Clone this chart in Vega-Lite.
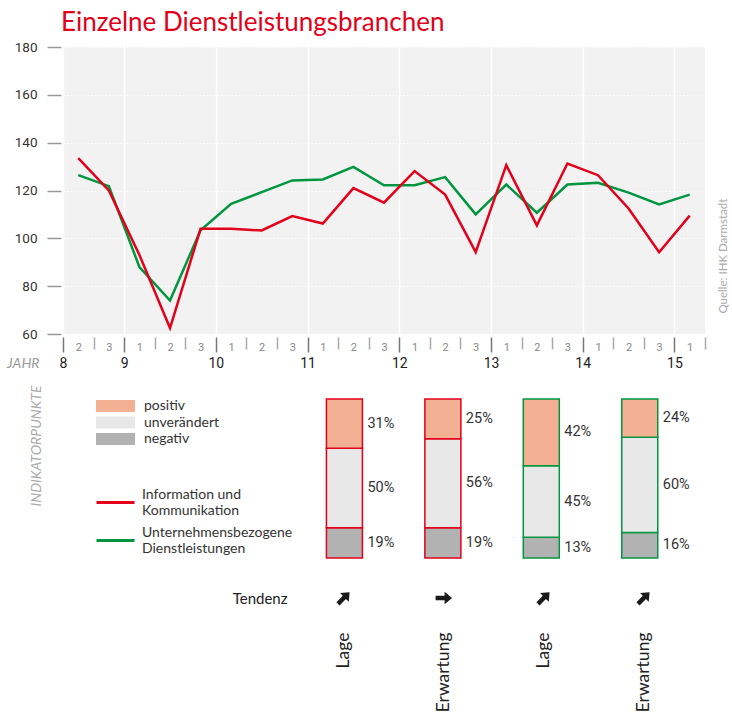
{
  "$schema": "https://vega.github.io/schema/vega-lite/v6.json",
  "padding": {"left": 6, "top": 10, "right": 0, "bottom": 0},
  "background": "white",
  "config": {
    "view": {"stroke": null},
    "font": "Lato",
    "axis": {"labelFont": "Roboto"}
  },
  "datasets": {
    "verlauf": [
      {"i": 0, "jahr": 2008, "periode": 2, "ik": 133.5, "ud": 126.4},
      {"i": 1, "jahr": 2008, "periode": 3, "ik": 120, "ud": 121.8},
      {"i": 2, "jahr": 2009, "periode": 1, "ik": 93, "ud": 88},
      {"i": 3, "jahr": 2009, "periode": 2, "ik": 62.5, "ud": 74},
      {"i": 4, "jahr": 2009, "periode": 3, "ik": 104, "ud": 103.4},
      {"i": 5, "jahr": 2010, "periode": 1, "ik": 104, "ud": 114.4},
      {"i": 6, "jahr": 2010, "periode": 2, "ik": 103.3, "ud": 119.3},
      {"i": 7, "jahr": 2010, "periode": 3, "ik": 109.3, "ud": 124.2},
      {"i": 8, "jahr": 2011, "periode": 1, "ik": 106.2, "ud": 124.6},
      {"i": 9, "jahr": 2011, "periode": 2, "ik": 121, "ud": 129.9},
      {"i": 10, "jahr": 2011, "periode": 3, "ik": 114.9, "ud": 122.2},
      {"i": 11, "jahr": 2012, "periode": 1, "ik": 128.1, "ud": 122.2},
      {"i": 12, "jahr": 2012, "periode": 2, "ik": 118.3, "ud": 125.6},
      {"i": 13, "jahr": 2012, "periode": 3, "ik": 94.2, "ud": 110},
      {"i": 14, "jahr": 2013, "periode": 1, "ik": 130.6, "ud": 122.5},
      {"i": 15, "jahr": 2013, "periode": 2, "ik": 105.4, "ud": 110.7},
      {"i": 16, "jahr": 2013, "periode": 3, "ik": 131.3, "ud": 122.5},
      {"i": 17, "jahr": 2014, "periode": 1, "ik": 126.4, "ud": 123.2},
      {"i": 18, "jahr": 2014, "periode": 2, "ik": 112.5, "ud": 119.1},
      {"i": 19, "jahr": 2014, "periode": 3, "ik": 94.2, "ud": 114.2},
      {"i": 20, "jahr": 2015, "periode": 1, "ik": 109.5, "ud": 118.3}
    ],
    "anteile": [
      {"spalte": 1, "branche": "Information und Kommunikation", "art": "Lage", "kategorie": "negativ", "rang": 1, "anteil": 0.19},
      {"spalte": 1, "branche": "Information und Kommunikation", "art": "Lage", "kategorie": "unverändert", "rang": 2, "anteil": 0.50},
      {"spalte": 1, "branche": "Information und Kommunikation", "art": "Lage", "kategorie": "positiv", "rang": 3, "anteil": 0.31},
      {"spalte": 2, "branche": "Information und Kommunikation", "art": "Erwartung", "kategorie": "negativ", "rang": 1, "anteil": 0.19},
      {"spalte": 2, "branche": "Information und Kommunikation", "art": "Erwartung", "kategorie": "unverändert", "rang": 2, "anteil": 0.56},
      {"spalte": 2, "branche": "Information und Kommunikation", "art": "Erwartung", "kategorie": "positiv", "rang": 3, "anteil": 0.25},
      {"spalte": 3, "branche": "Unternehmensbezogene Dienstleistungen", "art": "Lage", "kategorie": "negativ", "rang": 1, "anteil": 0.13},
      {"spalte": 3, "branche": "Unternehmensbezogene Dienstleistungen", "art": "Lage", "kategorie": "unverändert", "rang": 2, "anteil": 0.45},
      {"spalte": 3, "branche": "Unternehmensbezogene Dienstleistungen", "art": "Lage", "kategorie": "positiv", "rang": 3, "anteil": 0.42},
      {"spalte": 4, "branche": "Unternehmensbezogene Dienstleistungen", "art": "Erwartung", "kategorie": "negativ", "rang": 1, "anteil": 0.16},
      {"spalte": 4, "branche": "Unternehmensbezogene Dienstleistungen", "art": "Erwartung", "kategorie": "unverändert", "rang": 2, "anteil": 0.60},
      {"spalte": 4, "branche": "Unternehmensbezogene Dienstleistungen", "art": "Erwartung", "kategorie": "positiv", "rang": 3, "anteil": 0.24}
    ],
    "tendenz": [
      {"spalte": 1, "art": "Lage", "zeile": "Tendenz", "tendenz": "steigend"},
      {"spalte": 2, "art": "Erwartung", "zeile": "Tendenz", "tendenz": "gleichbleibend"},
      {"spalte": 3, "art": "Lage", "zeile": "Tendenz", "tendenz": "steigend"},
      {"spalte": 4, "art": "Erwartung", "zeile": "Tendenz", "tendenz": "steigend"}
    ]
  },
  "spacing": 30,
  "bounds": "flush",
  "resolve": {"scale": {"x": "independent", "y": "independent"}},
  "vconcat": [
    {
      "width": 642,
      "height": 287,
      "title": {"text": "Einzelne Dienstleistungsbranchen", "anchor": "start", "frame": "group", "color": "#e2001a", "fontSize": 26, "fontWeight": "normal", "font": "Lato", "offset": 4, "dx": -2},
      "view": {"fill": "#f2f2f2", "stroke": null},
      "data": {"name": "verlauf"},
      "resolve": {"axis": {"x": "independent", "y": "independent"}},
      "layer": [
        {
          "mark": {"type": "line", "color": "#009640", "strokeWidth": 2.5},
          "encoding": {
            "x": {"field": "i", "type": "quantitative",
              "scale": {"domain": [-0.5, 20.5], "nice": false, "zero": false},
              "axis": {
                "orient": "bottom",
                "values": [-0.5, 0.5, 1.5, 2.5, 3.5, 4.5, 5.5, 6.5, 7.5, 8.5, 9.5, 10.5, 11.5, 12.5, 13.5, 14.5, 15.5, 16.5, 17.5, 18.5, 19.5, 20.5],
                "offset": 3,
                "domain": false,
                "ticks": true,
                "tickColor": {"condition": {"test": "datum.value == -0.5 || (datum.value - 1.5) % 3 == 0", "value": "#777"}, "value": "#aaa"},
                "tickSize": {"condition": {"test": "datum.value == -0.5 || (datum.value - 1.5) % 3 == 0", "value": 15}, "value": 12},
                "tickWidth": 1.5,
                "labelExpr": "datum.value == -0.5 ? '8' : ((datum.value - 1.5) % 3 == 0 ? '' + (9 + (datum.value - 1.5) / 3) : '')",
                "labelFontSize": 14,
                "labelColor": "#222",
                "labelPadding": 4,
                "labelFlush": false,
                "labelOverlap": false,
                "grid": true,
                "gridColor": "#ffffff",
                "gridWidth": 1.5,
                "gridOpacity": {"condition": {"test": "datum.value == -0.5 || (datum.value - 1.5) % 3 == 0", "value": 1}, "value": 0},
                "title": "JAHR",
                "titleFont": "Lato",
                "titleFontStyle": "italic",
                "titleFontWeight": "normal",
                "titleFontSize": 14,
                "titleColor": "#999",
                "titleAlign": "right",
                "titleBaseline": "middle",
                "titleX": -24,
                "titleY": 26
              }
            },
            "y": {"field": "ud", "type": "quantitative",
              "scale": {"domain": [60, 180], "nice": false, "zero": false},
              "axis": {
                "orient": "left",
                "values": [60, 80, 100, 120, 140, 160, 180],
                "domain": false,
                "offset": 2,
                "tickColor": "#999",
                "tickSize": 14,
                "tickWidth": 1.5,
                "labelFontSize": 13.5,
                "labelColor": "#333",
                "labelPadding": 10,
                "grid": true,
                "gridColor": "#ffffff",
                "gridDash": [1.5, 2],
                "gridWidth": 1,
                "title": null
              }
            }
          }
        },
        {
          "mark": {"type": "line", "color": "#e2001a", "strokeWidth": 2.5},
          "encoding": {
            "x": {"field": "i", "type": "quantitative",
              "scale": {"domain": [-0.5, 20.5], "nice": false, "zero": false},
              "axis": {
                "orient": "bottom",
                "values": [0, 1, 2, 3, 4, 5, 6, 7, 8, 9, 10, 11, 12, 13, 14, 15, 16, 17, 18, 19, 20],
                "offset": 3,
                "domain": false,
                "ticks": false,
                "grid": false,
                "labelExpr": "'' + ((datum.value + 1) % 3 + 1)",
                "labelFontSize": 11,
                "labelColor": "#888",
                "labelPadding": 4,
                "labelOverlap": false,
                "title": null
              }
            },
            "y": {"field": "ik", "type": "quantitative",
              "scale": {"domain": [60, 180], "nice": false, "zero": false},
              "axis": {
                "orient": "right",
                "labels": false,
                "ticks": false,
                "domain": false,
                "grid": false,
                "title": "Quelle: IHK Darmstadt",
                "titleFont": "Lato",
                "titleFontSize": 11.5,
                "titleFontWeight": "normal",
                "titleColor": "#aaa",
                "titleAngle": -90,
                "titleAlign": "left",
                "titleBaseline": "middle",
                "titleX": 18.5,
                "titleY": 266
              }
            }
          }
        }
      ]
    },
    {
      "width": 642,
      "height": 194,
      "data": {"name": "anteile"},
      "transform": [
        {"stack": "anteil", "groupby": ["spalte"], "sort": [{"field": "rang", "order": "ascending"}], "as": ["p0", "p1"]},
        {"calculate": "(datum.p0 + datum.p1) / 2", "as": "pmitte"}
      ],
      "layer": [
        {
          "mark": {"type": "bar", "size": 36, "strokeWidth": 1.5},
          "encoding": {
            "x": {"field": "spalte", "type": "quantitative", "scale": {"domain": [-1.808, 4.612], "nice": false, "zero": false}, "axis": null},
            "y": {"field": "p0", "type": "quantitative", "scale": {"domain": [0, 1.22], "nice": false, "zero": false},
              "axis": {"labels": false, "ticks": false, "domain": false, "grid": false, "title": "INDIKATORPUNKTE", "titleAngle": -90, "titleFontStyle": "italic", "titleFontWeight": "normal", "titleColor": "#aaa", "titleFontSize": 14, "titleFont": "Lato", "titleX": -27, "titleY": 21, "titleAlign": "right", "titleBaseline": "middle"}},
            "y2": {"field": "p1"},
            "fill": {"field": "kategorie", "type": "nominal",
              "scale": {"domain": ["positiv", "unverändert", "negativ"], "range": ["#f4b092", "#e8e8e8", "#b2b2b3"]},
              "legend": {"orient": "none", "legendX": 32, "legendY": 352, "title": null, "symbolType": "M-1,-1H5.5V1H-1Z", "symbolSize": 144, "symbolStrokeWidth": 0, "symbolOpacity": 1, "labelFont": "Lato", "labelFontSize": 14, "labelColor": "#333", "labelOffset": 35, "rowPadding": 2.5}},
            "stroke": {"field": "branche", "type": "nominal",
              "scale": {"domain": ["Information und Kommunikation", "Unternehmensbezogene Dienstleistungen"], "range": ["#e2001a", "#009640"]},
              "legend": {"orient": "none", "legendX": 32, "legendY": 448, "title": null, "symbolType": "M-1,0H5.33", "symbolSize": 144, "symbolStrokeWidth": 3, "symbolFillColor": "transparent", "symbolOpacity": 1, "labelExpr": "[substring(datum.label, 0, lastindexof(datum.label, ' ')), substring(datum.label, lastindexof(datum.label, ' ') + 1)]", "labelBaseline": "line-bottom", "labelFont": "Lato", "labelFontSize": 14, "labelColor": "#333", "labelOffset": 32, "rowPadding": 7}}
          }
        },
        {
          "mark": {"type": "text", "align": "left", "baseline": "middle", "dx": 23, "fontSize": 14.5, "font": "Roboto", "color": "#333"},
          "encoding": {
            "x": {"field": "spalte", "type": "quantitative", "scale": {"domain": [-1.808, 4.612], "nice": false, "zero": false}, "axis": null},
            "y": {"field": "pmitte", "type": "quantitative", "scale": {"domain": [0, 1.22], "nice": false, "zero": false},
              "axis": {"labels": false, "ticks": false, "domain": false, "grid": false, "title": "INDIKATORPUNKTE", "titleAngle": -90, "titleFontStyle": "italic", "titleFontWeight": "normal", "titleColor": "#aaa", "titleFontSize": 14, "titleFont": "Lato", "titleX": -27, "titleY": 21, "titleAlign": "right", "titleBaseline": "middle"}},
            "text": {"field": "anteil", "type": "quantitative", "format": ".0%"}
          }
        }
      ]
    },
    {
      "width": 642,
      "height": 20,
      "data": {"name": "tendenz"},
      "mark": {"type": "point", "shape": "M-0.27,1L-0.27,-0.1L-0.75,-0.1L0,-1L0.75,-0.1L0.27,-0.1L0.27,1Z", "filled": true, "color": "#1a1a1a", "size": 270, "opacity": 1},
      "encoding": {
        "x": {"field": "spalte", "type": "quantitative", "scale": {"domain": [-1.808, 4.612], "nice": false, "zero": false},
          "axis": {"values": [1, 2, 3, 4], "labelExpr": "datum.value % 2 == 1 ? 'Lage' : 'Erwartung'", "labelAngle": -90, "ticks": false, "domain": false, "grid": false, "labelPadding": 24, "labelFontSize": 17.5, "labelFont": "Lato", "labelColor": "#222", "title": null}},
        "y": {"field": "zeile", "type": "nominal",
          "axis": {"ticks": false, "domain": false, "offset": -224, "labelFontSize": 15, "labelFont": "Lato", "labelColor": "#222", "title": null, "labelPadding": 0}},
        "angle": {"condition": {"test": "datum.tendenz == 'gleichbleibend'", "value": 90}, "value": 45}
      }
    }
  ]
}
